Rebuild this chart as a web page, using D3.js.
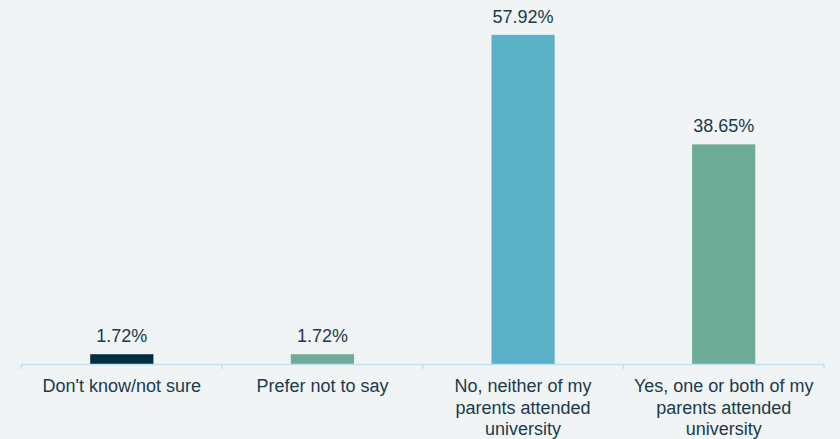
<!DOCTYPE html>
<html>
<head>
<meta charset="utf-8">
<script src="https://cdn.jsdelivr.net/npm/d3@7"></script>
<style>
  html, body { margin: 0; padding: 0; background: #f0f4f5; }
  svg { display: block; }
  text { font-family: "Liberation Sans", Arial, sans-serif; }
</style>
</head>
<body>
<svg id="chart" width="840" height="439"></svg>
<script>
const categories = [
  "Don't know/not sure",
  "Prefer not to say",
  "No, neither of my parents attended university",
  "Yes, one or both of my parents attended university"
];
const categoryLines = [
  ["Don't know/not sure"],
  ["Prefer not to say"],
  ["No, neither of my", "parents attended", "university"],
  ["Yes, one or both of my", "parents attended", "university"]
];
const values = [1.72, 1.72, 57.92, 38.65];
const barColors = ["#022f40", "#6fac97", "#5ab1c8", "#6fac97"];

const width = 840, height = 439;
const margin = { top: 23, right: 16, bottom: 75, left: 21.5 };
const svg = d3.select("#chart");

const x = d3.scaleBand()
  .domain(categories)
  .range([margin.left, width - margin.right])
  .paddingInner(0.685)
  .paddingOuter(0.3425);

const y = d3.scaleLinear()
  .domain([0, 60])
  .range([height - margin.bottom, margin.top]);

const textColor = "#1b3a4b";
const axisColor = "#bde3f3";

// bars
svg.append("g").selectAll("rect")
  .data(values)
  .join("rect")
  .attr("x", (d, i) => x(categories[i]))
  .attr("width", x.bandwidth())
  .attr("y", d => y(d))
  .attr("height", d => y(0) - y(d))
  .attr("fill", (d, i) => barColors[i]);

// value labels
svg.append("g").selectAll("text")
  .data(values)
  .join("text")
  .attr("x", (d, i) => x(categories[i]) + x.bandwidth() / 2)
  .attr("y", d => y(d) - 12)
  .attr("text-anchor", "middle")
  .attr("font-size", 18)
  .attr("fill", textColor)
  .text(d => d.toFixed(2) + "%");

// category axis with tick marks at band boundaries
const xAxis = svg.append("g");
const step = x.step();
const x0 = margin.left, x1 = width - margin.right;
xAxis.append("line")
  .attr("x1", x0).attr("x2", x1)
  .attr("y1", y(0) + 0.5).attr("y2", y(0) + 0.5)
  .attr("stroke", axisColor).attr("stroke-width", 1.5);
const boundaries = d3.range(categories.length + 1).map(i => x0 + (x1 - x0) * i / categories.length);
xAxis.selectAll("line.tick")
  .data(boundaries)
  .join("line")
  .attr("class", "tick")
  .attr("x1", d => d).attr("x2", d => d)
  .attr("y1", y(0)).attr("y2", y(0) + 5)
  .attr("stroke", axisColor).attr("stroke-width", 1.5);

const labels = xAxis.selectAll("text")
  .data(categories)
  .join("text")
  .attr("x", d => x(d) + x.bandwidth() / 2)
  .attr("y", y(0) + 28)
  .attr("text-anchor", "middle")
  .attr("font-size", 18)
  .attr("fill", textColor);
labels.selectAll("tspan")
  .data((d, i) => categoryLines[i])
  .join("tspan")
  .attr("x", function () { return d3.select(this.parentNode).attr("x"); })
  .attr("dy", (d, i) => i === 0 ? 0 : 21.5)
  .text(d => d);
</script>
</body>
</html>
